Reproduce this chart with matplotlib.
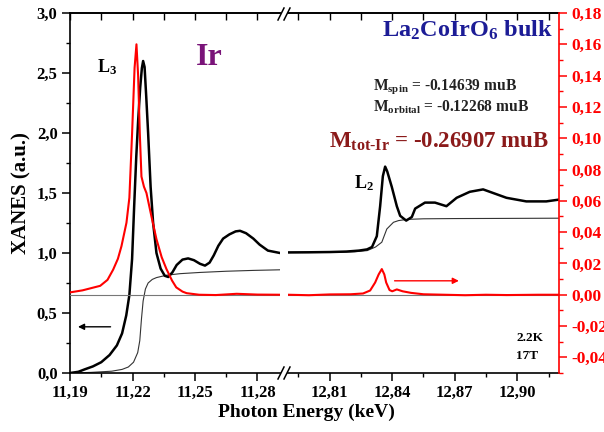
import matplotlib
matplotlib.use("Agg")
import matplotlib.pyplot as plt
from matplotlib.ticker import FixedLocator, MultipleLocator, FuncFormatter
from matplotlib.lines import Line2D

plt.rcParams['font.family'] = 'Liberation Serif'
plt.rcParams['font.weight'] = 'bold'
plt.rcParams['mathtext.fontset'] = 'custom'
plt.rcParams['mathtext.rm'] = 'Liberation Serif:bold'
plt.rcParams['mathtext.it'] = 'Liberation Serif:bold'
plt.rcParams['mathtext.bf'] = 'Liberation Serif:bold'

# ---- data ----
# L3 edge (left part of the broken axis)
l3_energy = [11.190, 11.194, 11.197, 11.201, 11.205, 11.209, 11.2125, 11.215, 11.217, 11.2185,
             11.2198, 11.2208, 11.2218, 11.2227, 11.2237, 11.2245, 11.2251, 11.2258, 11.2266, 11.2275,
             11.2287, 11.2299, 11.2315, 11.2335, 11.2355, 11.2372, 11.2392, 11.2412, 11.2440, 11.2467,
             11.2495, 11.2524, 11.2548, 11.2570, 11.2590, 11.2612, 11.2635, 11.2665, 11.2695, 11.2716,
             11.2745, 11.2780, 11.2810, 11.2850, 11.2908]
l3_xanes = [0.00, 0.01, 0.03, 0.055, 0.09, 0.15, 0.23, 0.33, 0.48, 0.65,
            0.95, 1.39, 1.80, 2.10, 2.38, 2.54, 2.60, 2.55, 2.30, 2.00,
            1.55, 1.25, 1.00, 0.87, 0.81, 0.80, 0.84, 0.90, 0.945, 0.955,
            0.94, 0.91, 0.895, 0.92, 0.98, 1.06, 1.12, 1.155, 1.18, 1.185,
            1.165, 1.12, 1.07, 1.02, 1.00]

l3_step_energy = [11.190, 11.200, 11.210, 11.215, 11.218, 11.2205, 11.2225, 11.2235, 11.2243, 11.2251,
                  11.2262, 11.2275, 11.2295, 11.2315, 11.2363, 11.2430, 11.2524, 11.2650, 11.2780, 11.2908]
l3_step = [0.00, 0.005, 0.015, 0.03, 0.05, 0.09, 0.17, 0.27, 0.45, 0.60,
           0.70, 0.75, 0.78, 0.795, 0.815, 0.828, 0.838, 0.848, 0.855, 0.86]

l3_xmcd_energy = [11.190, 11.196, 11.2045, 11.2080, 11.2107, 11.2130, 11.2147, 11.2171, 11.2185, 11.2198,
                  11.2210, 11.2219, 11.2227, 11.2235, 11.2243, 11.2255, 11.2267, 11.2291, 11.2315, 11.2340,
                  11.2363, 11.2390, 11.2410, 11.2440, 11.2460, 11.2520, 11.2600, 11.2700, 11.2800, 11.2908]
l3_xmcd = [0.0015, 0.0028, 0.0057, 0.0095, 0.0160, 0.0230, 0.0310, 0.0460, 0.0620, 0.1030,
           0.1450, 0.1600, 0.1400, 0.1030, 0.0755, 0.0690, 0.0650, 0.0500, 0.0355, 0.0240,
           0.0164, 0.0090, 0.0047, 0.0020, 0.0010, 0.0000, -0.0002, 0.0006, 0.0001, 0.0000]

# L2 edge (right part)
l2_energy = [12.790, 12.800, 12.810, 12.818, 12.824, 12.8279, 12.8303, 12.8326, 12.8342, 12.8355,
             12.8366, 12.8376, 12.8398, 12.8422, 12.8438, 12.8467, 12.8494, 12.8510, 12.8557, 12.8605,
             12.8660, 12.8709, 12.8772, 12.8836, 12.8884, 12.8948, 12.9043, 12.9139, 12.9200]
l2_xanes = [1.005, 1.006, 1.008, 1.012, 1.020, 1.030, 1.050, 1.140, 1.390, 1.640,
            1.720, 1.680, 1.550, 1.390, 1.310, 1.270, 1.300, 1.370, 1.420, 1.420,
            1.390, 1.460, 1.510, 1.530, 1.500, 1.460, 1.430, 1.430, 1.445]

l2_step_energy = [12.790, 12.810, 12.822, 12.828, 12.832, 12.835, 12.8374, 12.8406, 12.843, 12.847,
                  12.855, 12.870, 12.890, 12.920]
l2_step = [1.003, 1.005, 1.010, 1.020, 1.050, 1.090, 1.200, 1.256, 1.270, 1.280,
           1.285, 1.287, 1.288, 1.290]

l2_xmcd_energy = [12.790, 12.800, 12.810, 12.820, 12.826, 12.8294, 12.8318, 12.8335, 12.8350, 12.8362,
                  12.8371, 12.8387, 12.8400, 12.8422, 12.8450, 12.8490, 12.8550, 12.8650, 12.8750, 12.8850,
                  12.8950, 12.9100, 12.9200]
l2_xmcd = [0.0000, -0.0003, 0.0002, 0.0003, 0.0008, 0.0027, 0.0078, 0.0130, 0.0164, 0.0130,
           0.0078, 0.0030, 0.0022, 0.0034, 0.0022, 0.0012, 0.0003, 0.0000, -0.0003, 0.0000,
           -0.0002, 0.0000, 0.0000]

left_xlim = (11.19, 11.2908)
right_xlim = (12.79, 12.92)
left_xticks = [11.19, 11.22, 11.25, 11.28]
right_xticks = [12.81, 12.84, 12.87, 12.90]
xanes_lim = (0.0, 3.0)
xmcd_lim = (-0.05, 0.18)

RED = '#ff0000'
W, H = 604, 432

fig = plt.figure(figsize=(W / 100, H / 100), dpi=100)
ax1 = fig.add_axes([70 / W, 59 / H, 210 / W, 360 / H])
ax2 = fig.add_axes([288 / W, 59 / H, 271 / W, 360 / H])
r1 = ax1.twinx()
r2 = ax2.twinx()

ax1.plot(l3_step_energy, l3_step, color='#333333', lw=0.8)
ax1.plot(l3_energy, l3_xanes, color='black', lw=1.8)
ax2.plot(l2_step_energy, l2_step, color='#333333', lw=0.8)
ax2.plot(l2_energy, l2_xanes, color='black', lw=1.8)

for r in (r1, r2):
    r.axhline(0, color='#777777', lw=0.8)
r1.plot(l3_xmcd_energy, l3_xmcd, color=RED, lw=1.5)
r2.plot(l2_xmcd_energy, l2_xmcd, color=RED, lw=1.5)

for a in (ax1, r1):
    a.set_xlim(*left_xlim)
for a in (ax2, r2):
    a.set_xlim(*right_xlim)
ax1.set_ylim(*xanes_lim)
ax2.set_ylim(*xanes_lim)
r1.set_ylim(*xmcd_lim)
r2.set_ylim(*xmcd_lim)

comma2 = FuncFormatter(lambda v, p: f"{v:.2f}".replace('.', ','))
comma1 = FuncFormatter(lambda v, p: f"{v:.1f}".replace('.', ','))

# spines
for a in (ax1, ax2, r1, r2):
    for s in a.spines.values():
        s.set_linewidth(1.2)
ax1.spines['right'].set_visible(False)
ax2.spines['left'].set_visible(False)
ax2.spines['right'].set_visible(False)
r1.set_axis_off()
r2.spines['left'].set_visible(False)
r2.spines['top'].set_visible(False)
r2.spines['bottom'].set_visible(False)
r2.spines['right'].set_color(RED)

# x ticks
for a, ticks in ((ax1, left_xticks), (ax2, right_xticks)):
    a.xaxis.set_major_locator(FixedLocator(ticks))
    a.xaxis.set_minor_locator(MultipleLocator(0.015))
    a.xaxis.set_major_formatter(comma2)
    a.tick_params(axis='x', which='major', direction='out', length=5.5, width=1.1, labelsize=12, pad=3)
    a.tick_params(axis='x', which='minor', direction='out', length=3, width=1.0)
    sec = a.secondary_xaxis('top')
    sec.xaxis.set_major_locator(FixedLocator(ticks))
    sec.xaxis.set_minor_locator(MultipleLocator(0.015))
    sec.tick_params(axis='x', which='both', direction='in', length=5, width=1.0, labeltop=False)
    sec.spines['top'].set_linewidth(1.2)

# left y
ax1.yaxis.set_major_locator(MultipleLocator(0.5))
ax1.yaxis.set_minor_locator(MultipleLocator(0.25))
ax1.yaxis.set_major_formatter(comma1)
ax1.tick_params(axis='y', which='major', direction='out', length=5.5, width=1.1, labelsize=12)
ax1.tick_params(axis='y', which='minor', direction='out', length=3, width=1.0)
ax2.tick_params(axis='y', which='both', left=False, labelleft=False)

# right y (red)
r2.yaxis.set_major_locator(MultipleLocator(0.02))
r2.yaxis.set_minor_locator(MultipleLocator(0.01))
r2.yaxis.set_major_formatter(comma2)
r2.tick_params(axis='y', which='major', direction='out', length=5.5, width=1.1,
               colors=RED, labelsize=12.5, labelcolor=RED)
r2.tick_params(axis='y', which='minor', direction='out', length=3, width=1.0, colors=RED)

ax1.set_ylabel('XANES (a.u.)', fontsize=15, fontweight='bold', labelpad=4)
fig.text(306 / W, 1 - 417 / H, 'Photon Energy (keV)', ha='center', va='baseline',
         fontsize=14, fontweight='bold')

# annotations
ax1.text(11.2028, 2.51, r'L$_3$', fontsize=13, ha='left', va='baseline')
ax1.text(11.2504, 2.57, 'Ir', fontsize=23, color='#7a1479', ha='left', va='baseline')
ax2.text(12.8215, 1.543, r'L$_2$', fontsize=13, ha='left', va='baseline')
ax2.text(12.917, 2.80, r'La$_2$CoIrO$_6$ bulk', fontsize=17.5, color='#1c1c96',
         ha='right', va='baseline')
ax2.text(12.8309, 2.36, r'M$_{spin}$ = -0.14639 muB', fontsize=11.2, color='#222222',
         ha='left', va='baseline')
ax2.text(12.8309, 2.18, r'M$_{orbital}$ = -0.12268 muB', fontsize=11.2, color='#222222',
         ha='left', va='baseline')
ax2.text(12.8095, 1.877, r'M$_{tot\text{-}Ir}$ = -0.26907 muB', fontsize=16.5, color='#8b1a1a',
         ha='left', va='baseline')
ax2.text(12.8995, 0.267, '2.2K', fontsize=9.5, ha='left', va='baseline')
ax2.text(12.8995, 0.114, '17T', fontsize=9.5, ha='left', va='baseline')

ax1.annotate('', xy=(11.1925, 0.385), xytext=(11.2108, 0.385),
             arrowprops=dict(arrowstyle='-|>', color='black', lw=1.0, mutation_scale=9))
r2.annotate('', xy=(12.8733, 0.0089), xytext=(12.8398, 0.0089),
            arrowprops=dict(arrowstyle='-|>', color=RED, lw=1.0, mutation_scale=9))

# break marks
for y0 in (14, 373):
    for dx in (0, 6):
        x0 = 278 + dx
        fig.add_artist(Line2D([x0 / W, (x0 + 6) / W], [1 - (y0 + 6) / H, 1 - (y0 - 6) / H],
                              color='black', lw=1.1))

fig.savefig('out.png', dpi=100)
